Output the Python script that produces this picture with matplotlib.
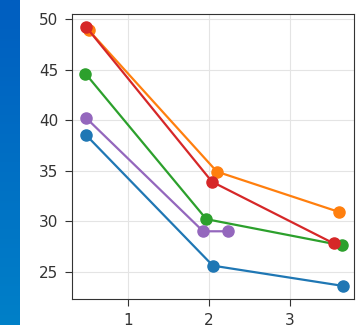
import numpy as np
import matplotlib.pyplot as plt
from matplotlib.colors import LinearSegmentedColormap

# Messreihen (Mittelwerte je Stufe)
x_blau = [0.49, 2.05, 3.65]
y_blau = [38.5, 25.6, 23.6]

x_orange = [0.52, 2.10, 3.61]
y_orange = [48.9, 34.9, 30.9]

x_gruen = [0.48, 1.97, 3.64]
y_gruen = [44.6, 30.2, 27.6]

x_rot = [0.49, 2.04, 3.54]
y_rot = [49.2, 33.9, 27.8]

x_lila = [0.49, 1.93, 2.24]
y_lila = [40.2, 29.0, 29.0]

fig = plt.figure(figsize=(3.56, 3.25), dpi=100)

# blauer Streifen am linken Rand
streifen = fig.add_axes([0, 0, 20/356, 1])
verlauf = np.linspace(0, 1, 256).reshape(-1, 1)
cmap = LinearSegmentedColormap.from_list('streifen', ['#005ec0', '#0080c8'])
streifen.imshow(verlauf, aspect='auto', cmap=cmap, extent=[0, 1, 0, 1])
streifen.axis('off')

ax1 = fig.add_axes([72/356, 26/325, 282/356, 285/325])
for xs, ys, c in [(x_blau, y_blau, 'C0'), (x_orange, y_orange, 'C1'),
                  (x_gruen, y_gruen, 'C2'), (x_rot, y_rot, 'C3'),
                  (x_lila, y_lila, 'C4')]:
    ax1.plot(xs, ys, '-o', color=c, lw=1.6, ms=8)

ax1.set_xlim(0.314, 3.79)
ax1.set_ylim(22.3, 50.5)
ax1.set_xticks([1, 2, 3])
ax1.set_yticks([25, 30, 35, 40, 45, 50])
ax1.grid(True, color='#e4e4e4', lw=0.8)
ax1.set_axisbelow(True)
ax1.tick_params(labelsize=11, colors='#333333', length=5, pad=5)
for s in ax1.spines.values():
    s.set_color('#333333')

plt.savefig('out.png', dpi=100)
